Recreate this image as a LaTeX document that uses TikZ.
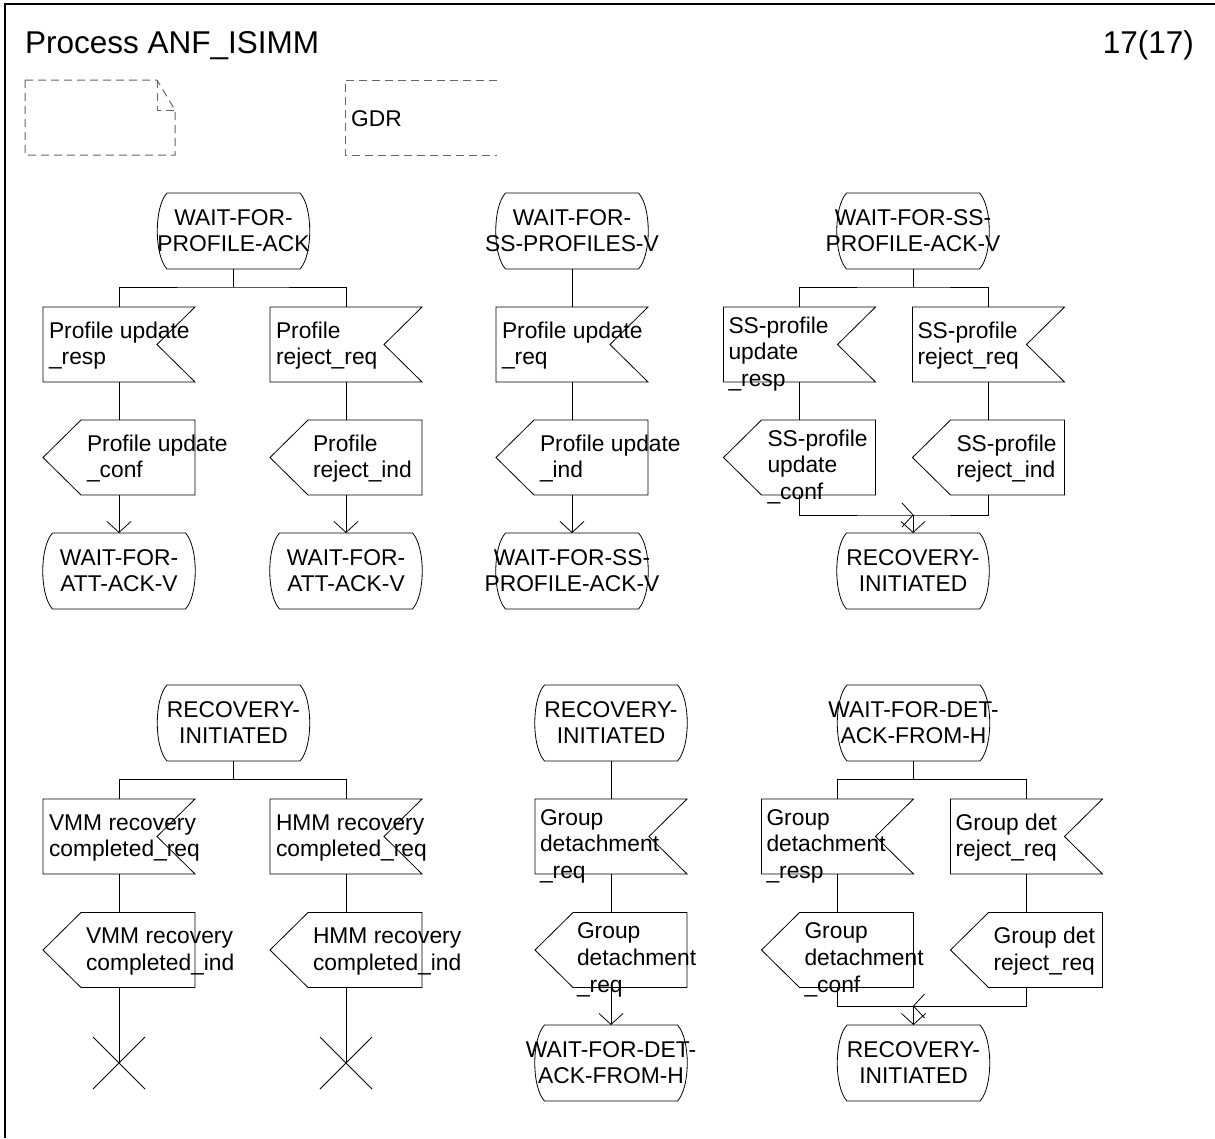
\documentclass[tikz,border=0pt]{standalone}
\usepackage{fontspec}
\setmainfont{Liberation Sans}
\usetikzlibrary{calc,arrows.meta,shapes.misc}
\newcommand{\fl}{\rule{0pt}{18pt}}
\begin{document}
\begin{tikzpicture}[x=1pt,y=-1pt,
  sym/.style={draw=black, line width=0.8pt},
  arr/.style={sym, -{Straight Barb[length=11pt,width=24pt]}},
  dashsym/.style={draw=black!60, line width=1pt, dash pattern=on 8pt off 5pt},
  box/.style={inner sep=0pt, outer sep=0pt, minimum width=152pt, minimum height=75pt},
  statebox/.style={inner sep=0pt, outer sep=0pt, minimum width=153pt, minimum height=76pt},
  txt/.style={inner sep=0pt, outer sep=0pt, font=\fontsize{22.8}{26.8}\selectfont, align=left, anchor=north west},
  stxt/.style={inner sep=0pt, outer sep=0pt, font=\fontsize{22.8}{26}\selectfont, align=center, anchor=north},
  stopsym/.style={cross out, draw=black, line width=0.8pt, minimum size=52pt, inner sep=0pt, outer sep=0pt}
]
\useasboundingbox (0,0) rectangle (1215,1138);
\draw[line width=1.5pt] (5,1138) -- (5,4) -- (1215,4);

% header
\node[inner sep=0pt, font=\fontsize{31.5}{36}\selectfont, anchor=base west] (title) at (25,53) {Process ANF\_ISIMM};
\node[inner sep=0pt, font=\fontsize{31.5}{36}\selectfont, anchor=base east] (page) at (1194,53) {17(17)};
\draw[dashsym] (25,80) -- (157,80) -- (175,110) -- (175,155) -- (25,155) -- cycle;
\draw[dashsym] (157,80) -- (157,110) -- (175,110);
\draw[dashsym] (497,80) -- (345,80) -- (345,155) -- (497,155);
\node[inner sep=0pt, font=\fontsize{22.8}{26}\selectfont, anchor=base west] (gdr) at (351,126) {GDR};

% ---------- top row ----------
\node[statebox] (sA) at (233.5,231) {};
\node[box] (iA1) at (119,344.5) {};
\node[box] (iA2) at (346,344.5) {};
\node[box] (oA1) at (119,457.5) {};
\node[box] (oA2) at (346,457.5) {};
\node[statebox] (nA1) at (119,571) {};
\node[statebox] (nA2) at (346,571) {};

\node[statebox] (sB) at (572,231) {};
\node[box] (iB) at (572,344.5) {};
\node[box] (oB) at (572,457.5) {};
\node[statebox] (nB) at (572,571) {};

\node[statebox] (sC) at (913,231) {};
\node[box] (iC1) at (799.5,344.5) {};
\node[box] (iC2) at (988.5,344.5) {};
\node[box] (oC1) at (799.5,457.5) {};
\node[box] (oC2) at (988.5,457.5) {};
\node[statebox] (nC) at (913,571) {};

% ---------- bottom row ----------
\node[statebox] (sD) at (233.5,723) {};
\node[box] (iD1) at (119,836.5) {};
\node[box] (iD2) at (346,836.5) {};
\node[box] (oD1) at (119,950) {};
\node[box] (oD2) at (346,950) {};
\node[stopsym] (xD1) at (119,1063) {};
\node[stopsym] (xD2) at (346,1063) {};

\node[statebox] (sE) at (611,723) {};
\node[box] (iE) at (611,836.5) {};
\node[box] (oE) at (611,950) {};
\node[statebox] (nE) at (611,1063) {};

\node[statebox] (sF) at (913.5,723) {};
\node[box] (iF1) at (837.5,836.5) {};
\node[box] (iF2) at (1026.5,836.5) {};
\node[box] (oF1) at (837.5,950) {};
\node[box] (oF2) at (1026.5,950) {};
\node[statebox] (nF) at (913.5,1063) {};

% shapes
\foreach \n in {sA,nA1,nA2,sB,nB,sC,nC,sD,sE,nE,sF,nF}{
  \draw[sym] ($(\n.north west)+(10,0)$) -- ($(\n.north east)+(-10,0)$)
    .. controls ($(\n.east)+(3,-24)$) and ($(\n.east)+(3,24)$) .. ($(\n.south east)+(-10,0)$)
    -- ($(\n.south west)+(10,0)$)
    .. controls ($(\n.west)+(-3,24)$) and ($(\n.west)+(-3,-24)$) .. cycle;
}
\foreach \n in {iA1,iA2,iB,iC1,iC2,iD1,iD2,iE,iF1,iF2}{
  \draw[sym] (\n.north west) -- (\n.north east) -- ($(\n.east)+(-38,0)$) -- (\n.south east) -- (\n.south west) -- cycle;
}
\foreach \n in {oA1,oA2,oB,oC1,oC2,oD1,oD2,oE,oF1,oF2}{
  \draw[sym] ($(\n.north west)+(38,0)$) -- (\n.north east) -- (\n.south east) -- ($(\n.south west)+(38,0)$) -- (\n.west) -- cycle;
}

% texts: states
\node[stxt] (sAt) at ($(sA.north)+(0,14)$) {\fl WAIT-FOR-\\PROFILE-ACK};
\node[stxt] (nA1t) at ($(nA1.north)+(0,14)$) {\fl WAIT-FOR-\\ATT-ACK-V};
\node[stxt] (nA2t) at ($(nA2.north)+(0,14)$) {\fl WAIT-FOR-\\ATT-ACK-V};
\node[stxt] (sBt) at ($(sB.north)+(0,14)$) {\fl WAIT-FOR-\\SS-PROFILES-V};
\node[stxt] (nBt) at ($(nB.north)+(0,14)$) {\fl WAIT-FOR-SS-\\PROFILE-ACK-V};
\node[stxt] (sCt) at ($(sC.north)+(0,14)$) {\fl WAIT-FOR-SS-\\PROFILE-ACK-V};
\node[stxt] (nCt) at ($(nC.north)+(0,14)$) {\fl RECOVERY-\\INITIATED};
\node[stxt] (sDt) at ($(sD.north)+(0,14)$) {\fl RECOVERY-\\INITIATED};
\node[stxt] (sEt) at ($(sE.north)+(0,14)$) {\fl RECOVERY-\\INITIATED};
\node[stxt] (nEt) at ($(nE.north)+(0,14)$) {\fl WAIT-FOR-DET-\\ACK-FROM-H};
\node[stxt] (sFt) at ($(sF.north)+(0,14)$) {\fl WAIT-FOR-DET-\\ACK-FROM-H};
\node[stxt] (nFt) at ($(nF.north)+(0,14)$) {\fl RECOVERY-\\INITIATED};

% texts: inputs
\node[txt] (iA1t) at ($(iA1.north west)+(6,13)$) {\fl Profile update\\\_resp};
\node[txt] (iA2t) at ($(iA2.north west)+(6,13)$) {\fl Profile\\reject\_req};
\node[txt] (iBt) at ($(iB.north west)+(6,13)$) {\fl Profile update\\\_req};
\node[txt] (iC1t) at ($(iC1.north west)+(5,8)$) {\fl SS-profile\\update\\\_resp};
\node[txt] (iC2t) at ($(iC2.north west)+(5,13)$) {\fl SS-profile\\reject\_req};
\node[txt] (iD1t) at ($(iD1.north west)+(6,13)$) {\fl VMM recovery\\completed\_req};
\node[txt] (iD2t) at ($(iD2.north west)+(6,13)$) {\fl HMM recovery\\completed\_req};
\node[txt] (iEt) at ($(iE.north west)+(5,8)$) {\fl Group\\detachment\\\_req};
\node[txt] (iF1t) at ($(iF1.north west)+(5,8)$) {\fl Group\\detachment\\\_resp};
\node[txt] (iF2t) at ($(iF2.north west)+(5,13)$) {\fl Group det\\reject\_req};

% texts: outputs
\node[txt] (oA1t) at ($(oA1.north west)+(44,13)$) {\fl Profile update\\\_conf};
\node[txt] (oA2t) at ($(oA2.north west)+(43,13)$) {\fl Profile\\reject\_ind};
\node[txt] (oBt) at ($(oB.north west)+(44,13)$) {\fl Profile update\\\_ind};
\node[txt] (oC1t) at ($(oC1.north west)+(44,8)$) {\fl SS-profile\\update\\\_conf};
\node[txt] (oC2t) at ($(oC2.north west)+(44,13)$) {\fl SS-profile\\reject\_ind};
\node[txt] (oD1t) at ($(oD1.north west)+(43,13)$) {\fl VMM recovery\\completed\_ind};
\node[txt] (oD2t) at ($(oD2.north west)+(43,13)$) {\fl HMM recovery\\completed\_ind};
\node[txt] (oEt) at ($(oE.north west)+(42,8)$) {\fl Group\\detachment\\\_req};
\node[txt] (oF1t) at ($(oF1.north west)+(43,8)$) {\fl Group\\detachment\\\_conf};
\node[txt] (oF2t) at ($(oF2.north west)+(43,13)$) {\fl Group det\\reject\_req};

% connectors top row
\coordinate (jA) at (233.5,287);
\draw[sym] (sA.south) -- (jA);
\draw[sym] (iA1.north) |- (jA) -| (iA2.north);
\draw[sym] (iA1.south) -- (oA1.north);
\draw[sym] (iA2.south) -- (oA2.north);
\draw[arr] (oA1.south) -- (nA1.north);
\draw[arr] (oA2.south) -- (nA2.north);

\draw[sym] (sB.south) -- (iB.north);
\draw[sym] (iB.south) -- (oB.north);
\draw[arr] (oB.south) -- (nB.north);

\coordinate (jC) at (913,287);
\draw[sym] (sC.south) -- (jC);
\draw[sym] (iC1.north) |- (jC) -| (iC2.north);
\draw[sym] (iC1.south) -- (oC1.north);
\draw[sym] (iC2.south) -- (oC2.north);
\coordinate (mC) at (913,515);
\draw[sym] (oC1.south) |- (mC) -| (oC2.south);
\draw[arr] (mC) -- (nC.north);
\draw[sym] (mC) -- ++(-11,-12) (mC) -- ++(-11,12);

% connectors bottom row
\coordinate (jD) at (233.5,779);
\draw[sym] (sD.south) -- (jD);
\draw[sym] (iD1.north) |- (jD) -| (iD2.north);
\draw[sym] (iD1.south) -- (oD1.north);
\draw[sym] (iD2.south) -- (oD2.north);
\draw[sym] (oD1.south) -- (xD1.center);
\draw[sym] (oD2.south) -- (xD2.center);

\draw[sym] (sE.south) -- (iE.north);
\draw[sym] (iE.south) -- (oE.north);
\draw[arr] (oE.south) -- (nE.north);

\coordinate (jF) at (913.5,779);
\draw[sym] (sF.south) -- (jF);
\draw[sym] (iF1.north) |- (jF) -| (iF2.north);
\draw[sym] (iF1.south) -- (oF1.north);
\draw[sym] (iF2.south) -- (oF2.north);
\coordinate (mF) at (913.5,1006);
\draw[sym] (oF1.south) |- (mF) -| (oF2.south);
\draw[arr] (mF) -- (nF.north);
\draw[sym] (mF) -- ++(11,-12) (mF) -- ++(11,12);
\end{tikzpicture}
\end{document}
